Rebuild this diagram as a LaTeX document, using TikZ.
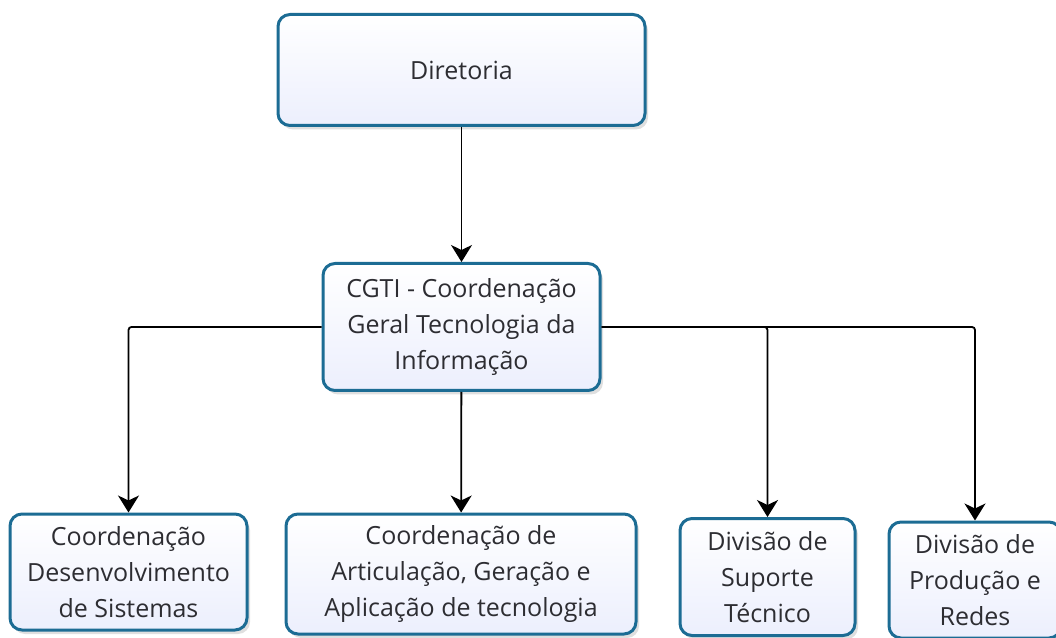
\documentclass[tikz,border=0pt]{standalone}
\usepackage{fontspec}
\setmainfont{Open Sans}
\usepackage{tikz}
\usetikzlibrary{arrows.meta,positioning,shadows}
\definecolor{boxline}{RGB}{28,108,148}
\definecolor{boxfill}{RGB}{236,239,253}
\definecolor{boxtext}{RGB}{45,45,50}

\begin{document}
\begin{tikzpicture}
              [x=1pt,y=1pt,
                every node/.style={rectangle,rounded corners=12pt,draw=boxline,line width=3pt,
                  top color=white,bottom color=boxfill,text=boxtext,align=center,
                  font=\fontsize{25}{36}\selectfont,inner sep=0pt,
                  drop shadow={opacity=0.25,shadow xshift=3pt,shadow yshift=-4pt}},
                link/.style={line width=1.8pt,rounded corners=3pt,-{Stealth[length=17pt,width=21pt,inset=5pt]}}]
              \useasboundingbox (0,0) rectangle (1056,637);
              \node[minimum width=367pt,minimum height=111pt] (dir) at (461.5,567) {Diretoria};
              \node[minimum width=277pt,minimum height=127pt] (cgti) at (461.5,310) {CGTI - Coordena\c{c}\~ao\\Geral Tecnologia da\\Informa\c{c}\~ao};
              \node[minimum width=237pt,minimum height=116pt] (cds) at (128.5,65) {Coordena\c{c}\~ao\\Desenvolvimento\\de Sistemas};
              \node[minimum width=350pt,minimum height=120pt] (cag) at (461,63) {Coordena\c{c}\~ao de\\Articula\c{c}\~ao, Gera\c{c}\~ao e\\Aplica\c{c}\~ao de tecnologia};
              \node[minimum width=175pt,minimum height=117pt] (dst) at (767.5,60) {Divis\~ao de\\Suporte\\T\'ecnico};
              \node[minimum width=172pt,minimum height=116pt] (dpr) at (975,57) {Divis\~ao de\\Produ\c{c}\~ao e\\Redes};
              \draw[link] (dir) -- (cgti);
              \draw[link] (cgti) -- (cag);
              \draw[link] (cgti.west) -| (cds.north);
              \foreach \to in {dst,dpr}
              \draw[link] (cgti.east) -| (\to.north);
            \end{tikzpicture}
\end{document}
